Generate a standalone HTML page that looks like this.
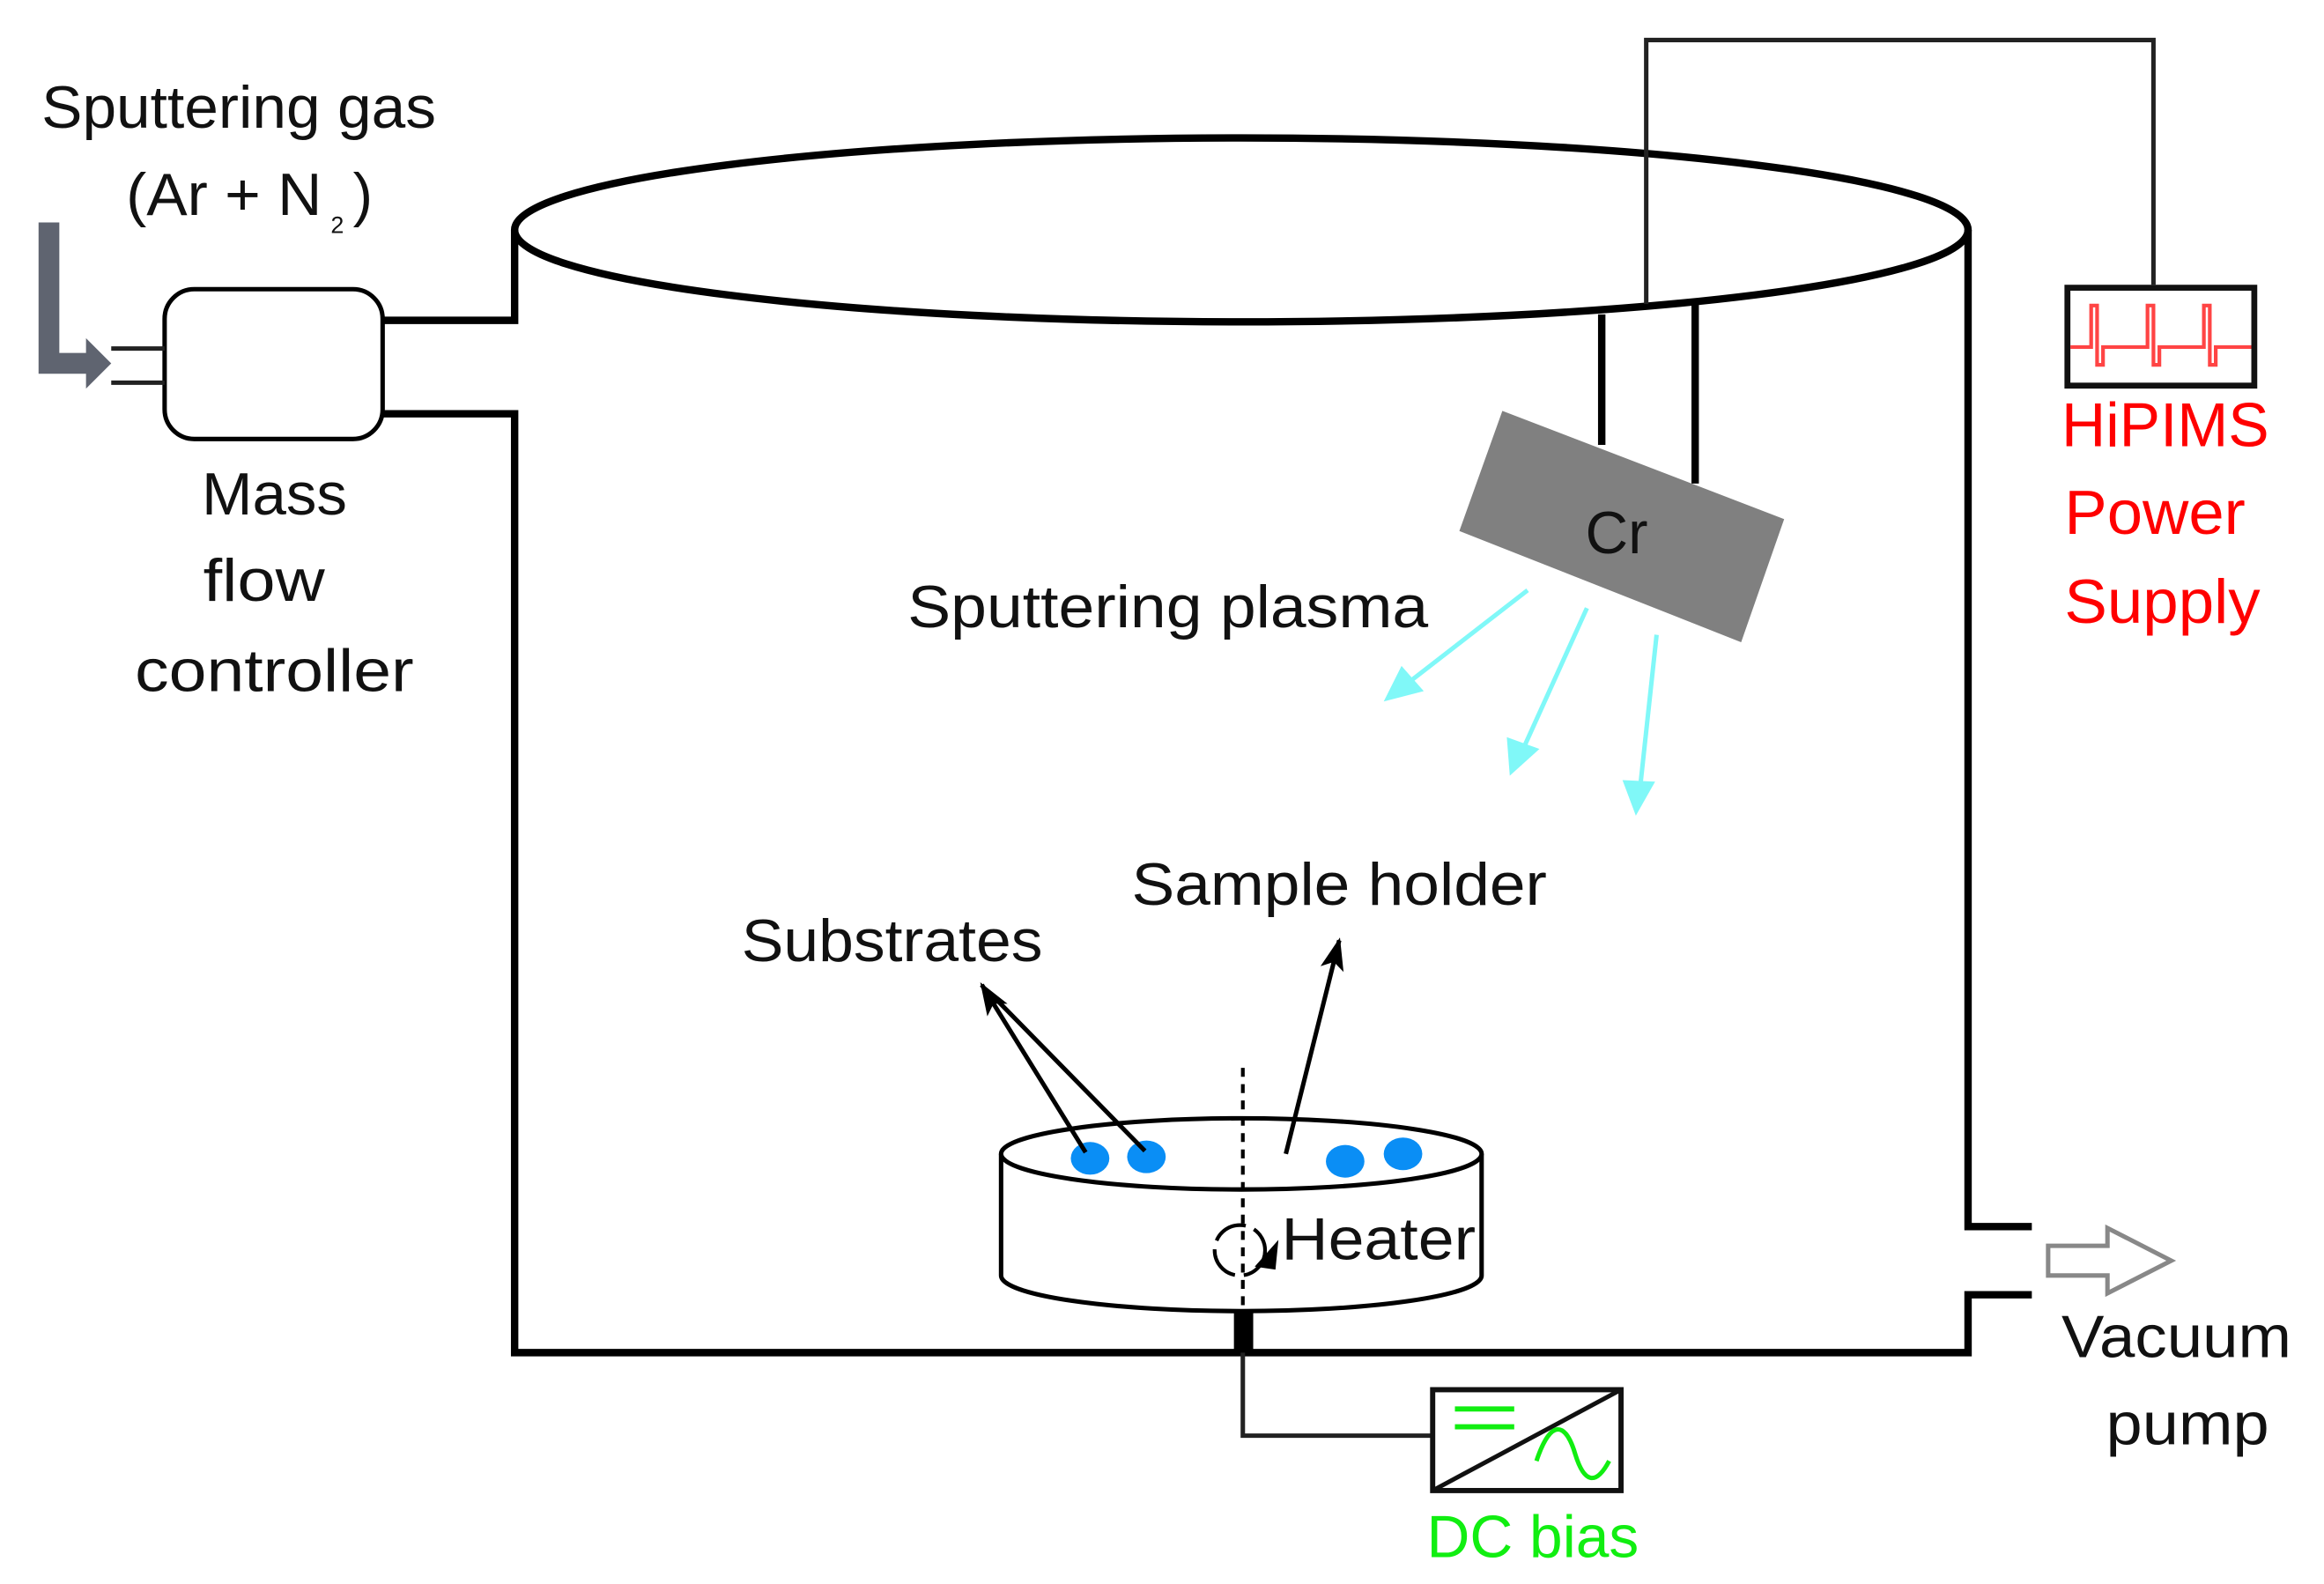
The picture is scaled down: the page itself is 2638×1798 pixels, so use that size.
<!DOCTYPE html>
<html><head><meta charset="utf-8"><style>
html,body{margin:0;padding:0;background:#fff;}
svg{display:block;}
text{font-family:"Liberation Sans",sans-serif;}
</style></head><body>
<svg width="2638" height="1798" viewBox="0 0 1567 1068" preserveAspectRatio="none" xmlns="http://www.w3.org/2000/svg">
<defs>
<marker id="ab" markerWidth="22" markerHeight="18" refX="20" refY="9" orient="auto" markerUnits="userSpaceOnUse" viewBox="0 0 22 18"><path d="M0,1 L22,9 L0,17 L5,9 z" fill="#000"/></marker>
</defs>
<!-- chamber -->
<ellipse cx="837" cy="155" rx="490" ry="62" fill="none" stroke="#000" stroke-width="5"/>
<path d="M347,155 V216 H258 M258,279 H347 V912 H1327 V873 H1370 M1370,827 H1327 V155" fill="none" stroke="#000" stroke-width="5"/>
<!-- MFC -->
<rect x="111" y="195" width="147" height="101" rx="20" fill="#fff" stroke="#000" stroke-width="3"/>
<path d="M75,235 H111 M75,258 H111" stroke="#222" stroke-width="3"/>
<path d="M26,150 H40 V238 H58 V228 L75,245 L58,262 V252 H26 Z" fill="#5f6470"/>
<text x="28" y="86" font-size="40" textLength="266" lengthAdjust="spacingAndGlyphs" fill="#111">Sputtering gas</text>
<text x="85" y="145" font-size="40" textLength="132" lengthAdjust="spacingAndGlyphs" fill="#111">(Ar + N</text>
<text x="223" y="157" font-size="16" fill="#111">2</text>
<text x="238" y="145" font-size="40" fill="#111">)</text>
<text x="136" y="347" font-size="40" textLength="98" lengthAdjust="spacingAndGlyphs" fill="#111">Mass</text>
<text x="137" y="405" font-size="40" textLength="82" lengthAdjust="spacingAndGlyphs" fill="#111">flow</text>
<text x="91" y="466" font-size="40" textLength="188" lengthAdjust="spacingAndGlyphs" fill="#111">controller</text>
<!-- HiPIMS -->
<path d="M1110,205 V27 H1452 V192" fill="none" stroke="#222" stroke-width="3"/>
<rect x="1394" y="194" width="126" height="66" fill="#fff" stroke="#111" stroke-width="4"/>
<path d="M1396,234 H1410 V206 H1414 V246 H1418 V234 H1448 V206 H1452 V246 H1456 V234 H1486 V206 H1490 V246 H1494 V234 H1518" fill="none" stroke="#f44" stroke-width="2.5"/>
<text x="1390" y="301" font-size="42" textLength="140" lengthAdjust="spacingAndGlyphs" fill="#f00">HiPIMS</text>
<text x="1392" y="360" font-size="42" textLength="122" lengthAdjust="spacingAndGlyphs" fill="#f00">Power</text>
<text x="1392" y="420" font-size="42" textLength="132" lengthAdjust="spacingAndGlyphs" fill="#f00">Supply</text>
<!-- electrode rods -->
<path d="M1080,212 V300 M1143,205 V326" stroke="#000" stroke-width="5"/>
<polygon points="1013,277 1203,350 1174,433 984,358" fill="#808080"/>
<text x="1090" y="373" font-size="40" text-anchor="middle" fill="#111">Cr</text>
<text x="612" y="423" font-size="40" textLength="351" lengthAdjust="spacingAndGlyphs" fill="#111">Sputtering plasma</text>
<!-- plasma arrows -->
<g stroke="#80f8f8" stroke-width="3">
<line x1="1030" y1="398" x2="950" y2="460"/>
<line x1="1070" y1="410" x2="1027" y2="505"/>
<line x1="1117" y1="428" x2="1106" y2="530"/>
</g>
<polygon points="933,473 945,449 960,466" fill="#80f8f8"/>
<polygon points="1018,523 1016,497 1038,505" fill="#80f8f8"/>
<polygon points="1103,550 1094,526 1116,527" fill="#80f8f8"/>
<!-- sample holder -->
<path d="M675,778 V860 A162,24 0 0 0 999,860 V778" fill="#fff" stroke="#000" stroke-width="3"/>
<ellipse cx="837" cy="778" rx="162" ry="24" fill="#fff" stroke="#000" stroke-width="3"/>
<ellipse cx="735" cy="781" rx="13" ry="11" fill="#0a8ef5"/>
<ellipse cx="773" cy="780" rx="13" ry="11" fill="#0a8ef5"/>
<ellipse cx="907" cy="783" rx="13" ry="11" fill="#0a8ef5"/>
<ellipse cx="946" cy="778" rx="13" ry="11" fill="#0a8ef5"/>
<line x1="838" y1="720" x2="838" y2="892" stroke="#000" stroke-width="2.5" stroke-dasharray="6,5"/>
<circle cx="836" cy="843" r="17" fill="none" stroke="#000" stroke-width="2.5" stroke-dasharray="24,6"/>
<polygon points="862,836 860,856 846,854" fill="#000"/>
<text x="864" y="849" font-size="40" textLength="131" lengthAdjust="spacingAndGlyphs" fill="#111">Heater</text>
<rect x="832" y="885" width="13" height="27" fill="#000"/>
<!-- callouts -->
<line x1="732" y1="777" x2="662" y2="664" stroke="#000" stroke-width="3" marker-end="url(#ab)"/>
<line x1="772" y1="776" x2="668" y2="670" stroke="#000" stroke-width="3"/>
<line x1="867" y1="778" x2="903" y2="634" stroke="#000" stroke-width="3" marker-end="url(#ab)"/>
<text x="500" y="648" font-size="40" textLength="203" lengthAdjust="spacingAndGlyphs" fill="#111">Substrates</text>
<text x="763" y="610" font-size="40" textLength="280" lengthAdjust="spacingAndGlyphs" fill="#111">Sample holder</text>
<!-- DC bias -->
<path d="M838,912 V968 H966" fill="none" stroke="#222" stroke-width="3"/>
<rect x="966" y="937" width="127" height="68" fill="#fff" stroke="#111" stroke-width="3.5"/>
<line x1="966" y1="1005" x2="1093" y2="937" stroke="#111" stroke-width="3"/>
<path d="M981,950 H1021 M981,962 H1021" stroke="#1e1" stroke-width="3.5"/>
<path d="M1036,985 C1046,955 1056,960 1062,980 C1068,1000 1076,1002 1085,985" fill="none" stroke="#1e1" stroke-width="3"/>
<text x="962" y="1050" font-size="40" textLength="143" lengthAdjust="spacingAndGlyphs" fill="#1e1">DC bias</text>
<!-- vacuum -->
<polygon points="1381,840 1421,840 1421,828 1464,850 1421,872 1421,860 1381,860" fill="#fff" stroke="#888" stroke-width="3"/>
<text x="1390" y="915" font-size="40" textLength="155" lengthAdjust="spacingAndGlyphs" fill="#111">Vacuum</text>
<text x="1420" y="974" font-size="40" textLength="110" lengthAdjust="spacingAndGlyphs" fill="#111">pump</text>
</svg>
</body></html>
